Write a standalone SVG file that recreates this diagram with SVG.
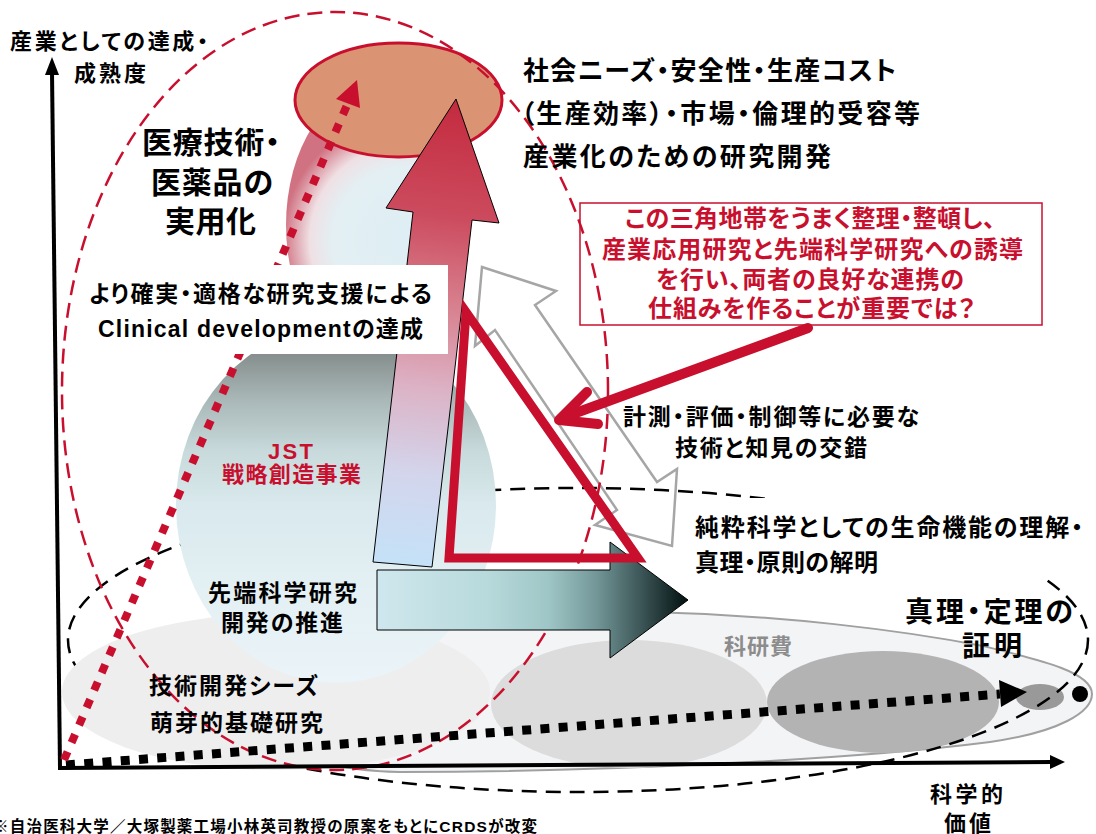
<svg xmlns="http://www.w3.org/2000/svg" width="1096" height="834" viewBox="0 0 1096 834">
<defs>
<style>
.t{font-family:"Liberation Sans","Noto Sans CJK JP",sans-serif;font-weight:700;fill:#000;font-feature-settings:"palt";}
.r{fill:#c8102e;}
.g{fill:#8c8c8c;}
.rdash{fill:none;stroke:#c8102e;stroke-width:2.5;stroke-dasharray:15 8;}
.kdash{fill:none;stroke:#000;stroke-width:2.5;stroke-dasharray:15 9;}
</style>
<linearGradient id="gRed" gradientUnits="userSpaceOnUse" x1="456" y1="99" x2="400" y2="567">
<stop offset="0" stop-color="#c42a3e"/>
<stop offset="0.25" stop-color="#cc4b5e"/>
<stop offset="0.45" stop-color="#d88492"/>
<stop offset="0.62" stop-color="#dcb3c6"/>
<stop offset="0.8" stop-color="#d3d5ec"/>
<stop offset="1" stop-color="#c4e2f8"/>
</linearGradient>
<linearGradient id="gDark" gradientUnits="userSpaceOnUse" x1="377" y1="0" x2="688" y2="0">
<stop offset="0" stop-color="#cfe7ee"/>
<stop offset="0.35" stop-color="#b8dadc"/>
<stop offset="0.55" stop-color="#9fc6c6"/>
<stop offset="0.7" stop-color="#75999a"/>
<stop offset="0.85" stop-color="#3c5556"/>
<stop offset="1" stop-color="#021010"/>
</linearGradient>
<linearGradient id="gJst" gradientUnits="userSpaceOnUse" x1="0" y1="327" x2="0" y2="683">
<stop offset="0" stop-color="#707a7c"/>
<stop offset="0.08" stop-color="#87908f"/>
<stop offset="0.2" stop-color="#a8b6b6"/>
<stop offset="0.35" stop-color="#c8dadc"/>
<stop offset="0.5" stop-color="#d9e9ed"/>
<stop offset="0.7" stop-color="#e2eff3"/>
<stop offset="1" stop-color="#ebf4f8"/>
</linearGradient>
<radialGradient id="gBall" gradientUnits="userSpaceOnUse" cx="405" cy="240" r="122">
<stop offset="0" stop-color="#deeef4"/>
<stop offset="0.6" stop-color="#e3eff3"/>
<stop offset="0.78" stop-color="#efe0e4"/>
<stop offset="0.92" stop-color="#dc9ba6"/>
<stop offset="1" stop-color="#d07282"/>
</radialGradient>
</defs>

<g id="cigar">
<path d="M1092,694 C1092,672 1040,660 983,646 C900,630 780,615 650,612 C500,608 300,615 250,660 C220,700 260,770 400,772 C600,772 850,760 990,742 C1060,732 1092,712 1092,694 Z" fill="#f3f4f6" stroke="#a0a0a0" stroke-width="2"/>
</g>
<g id="kakenhi">
<ellipse cx="629" cy="704" rx="138" ry="64" fill="#dcdcdc"/>
<ellipse cx="883" cy="702" rx="116" ry="51" fill="#b3b3b3"/>
<ellipse cx="1040" cy="697" rx="24" ry="13" fill="#999999"/>
</g>
<g id="white-arrow">
<polygon points="482,267 556,291 535,305 657,482 677,469 672,546 595,525 617,510 495,330 475,346" fill="#fff" stroke="#a6a6a6" stroke-width="2.5" stroke-linejoin="miter"/>
</g>
<g id="black-dashed">
<ellipse cx="578" cy="640" rx="510" ry="152" class="kdash"/>
</g>
<g id="gijutsu">
<ellipse cx="276" cy="692" rx="214" ry="78" fill="#eeeeee"/>
</g>
<g id="ball">
<ellipse cx="378" cy="225" rx="92" ry="140" fill="url(#gBall)"/>
</g>
<g id="jst">
<ellipse cx="336" cy="505" rx="160" ry="178" fill="url(#gJst)"/>
</g>
<g id="orange">
<ellipse cx="398.5" cy="100" rx="103.5" ry="57" fill="#da9373" stroke="#c8102e" stroke-width="3"/>
</g>
<g id="red-arrow">
<polygon points="456,99 499,223 472,220 432,567 373,562 413,212 386,208" fill="url(#gRed)" stroke="#000" stroke-width="1"/>
</g>
<g id="red-box">
<rect x="580" y="203" width="462" height="122" fill="#fff" stroke="#c8102e" stroke-width="1.5"/>
<text class="t r" font-size="24" x="625" y="227" textLength="370" lengthAdjust="spacing">この三角地帯をうまく整理・整頓し、</text>
<text class="t r" font-size="24" x="602" y="258" textLength="421" lengthAdjust="spacing">産業応用研究と先端科学研究への誘導</text>
<text class="t r" font-size="24" x="656" y="288" textLength="308" lengthAdjust="spacing">を行い、両者の良好な連携の</text>
<text class="t r" font-size="24" x="648" y="317" textLength="327" lengthAdjust="spacing">仕組みを作ることが重要では？</text>
</g>
<g id="red-dashed">
<ellipse cx="335" cy="391" rx="273" ry="379" class="rdash"/>
</g>
<g id="dark-arrow">
<polygon points="377,570 610,570 610,542 688,600 610,658 610,630 377,630" fill="url(#gDark)" stroke="#000" stroke-width="1"/>
</g>
<g id="pure-science">
<rect x="688" y="498" width="402" height="81" fill="#fff"/>
<text class="t" font-size="24" x="695" y="536" textLength="388" lengthAdjust="spacing">純粋科学としての生命機能の理解・</text>
<text class="t" font-size="24" x="695" y="571" textLength="183" lengthAdjust="spacing">真理・原則の解明</text>
</g>
<g id="axes">
<line x1="60" y1="768" x2="52" y2="72" stroke="#000" stroke-width="4"/>
<polygon points="52,57 45,75 59,75" fill="#000"/>
<line x1="58" y1="768" x2="1052" y2="762" stroke="#000" stroke-width="4"/>
<polygon points="1065,762 1050,755 1050,769" fill="#000"/>
</g>
<g id="connectors">
<line x1="66" y1="765" x2="1000" y2="694" stroke="#000" stroke-width="9" stroke-dasharray="9 9.3"/>
<polygon points="1027,692 999,680 1001,707" fill="#000"/>
<circle cx="1080" cy="694" r="8" fill="#000"/>
<line x1="64" y1="760" x2="348" y2="103" stroke="#c8102e" stroke-width="8" stroke-dasharray="9 10"/>
<polygon points="357,80 336,99 360,108" fill="#c8102e"/>
</g>
<g id="clinical-box">
<rect x="80" y="265" width="368" height="89" fill="#fff"/>
<text class="t" font-size="23" x="89" y="302" textLength="343" lengthAdjust="spacing">より確実・適格な研究支援による</text>
<text class="t" font-size="23" x="98" y="337" textLength="325" lengthAdjust="spacing">Clinical developmentの達成</text>
</g>
<g id="triangle">
<polygon points="466,312 449,558 638,558" fill="none" stroke="#c8102e" stroke-width="9" stroke-linejoin="miter" stroke-miterlimit="10"/>
</g>
<g id="pointer">
<line x1="808" y1="328" x2="562" y2="418" stroke="#c8102e" stroke-width="10" stroke-linecap="round"/>
<polyline points="587,392 559,420 598,424" fill="none" stroke="#c8102e" stroke-width="10" stroke-linecap="round" stroke-linejoin="round"/>
</g>
<g id="labels">
<text class="t" font-size="22" x="10" y="49" textLength="198" lengthAdjust="spacing">産業としての達成・</text>
<text class="t" font-size="22" x="74" y="81" textLength="72" lengthAdjust="spacing">成熟度</text>
<text class="t" font-size="30" x="142" y="153" textLength="138" lengthAdjust="spacing">医療技術・</text>
<text class="t" font-size="30" x="151" y="193" textLength="122" lengthAdjust="spacing">医薬品の</text>
<text class="t" font-size="30" x="165" y="232" textLength="91" lengthAdjust="spacing">実用化</text>
<text class="t" font-size="26" x="523" y="80" textLength="373" lengthAdjust="spacing">社会ニーズ・安全性・生産コスト</text>
<text class="t" font-size="26" x="521" y="123" textLength="399" lengthAdjust="spacing">（生産効率）・市場・倫理的受容等</text>
<text class="t" font-size="26" x="523" y="166" textLength="308" lengthAdjust="spacing">産業化のための研究開発</text>
<text class="t r" font-size="22" x="268" y="459" textLength="45" lengthAdjust="spacing">JST</text>
<text class="t r" font-size="22" x="222" y="482" textLength="139" lengthAdjust="spacing">戦略創造事業</text>
<text class="t" font-size="23" x="208" y="601" textLength="149" lengthAdjust="spacing">先端科学研究</text>
<text class="t" font-size="23" x="221" y="631" textLength="122" lengthAdjust="spacing">開発の推進</text>
<text class="t" font-size="23" x="149" y="694" textLength="169" lengthAdjust="spacing">技術開発シーズ</text>
<text class="t" font-size="23" x="150" y="731" textLength="173" lengthAdjust="spacing">萌芽的基礎研究</text>
<text class="t" font-size="23" x="623" y="425" textLength="296" lengthAdjust="spacing">計測・評価・制御等に必要な</text>
<text class="t" font-size="23" x="675" y="456" textLength="192" lengthAdjust="spacing">技術と知見の交錯</text>
<text class="t" font-size="28" x="905" y="622" textLength="168" lengthAdjust="spacing">真理・定理の</text>
<text class="t" font-size="28" x="962" y="656" textLength="60" lengthAdjust="spacing">証明</text>
<text class="t g" font-size="22" x="724" y="654" textLength="68" lengthAdjust="spacing">科研費</text>
<text class="t" font-size="22" x="930" y="802" textLength="73" lengthAdjust="spacing">科学的</text>
<text class="t" font-size="22" x="944" y="831" textLength="47" lengthAdjust="spacing">価値</text>
<text class="t" font-size="15.5" x="-7" y="832" textLength="544" lengthAdjust="spacing">※自治医科大学／大塚製薬工場小林英司教授の原案をもとにCRDSが改変</text>
</g>
</svg>
